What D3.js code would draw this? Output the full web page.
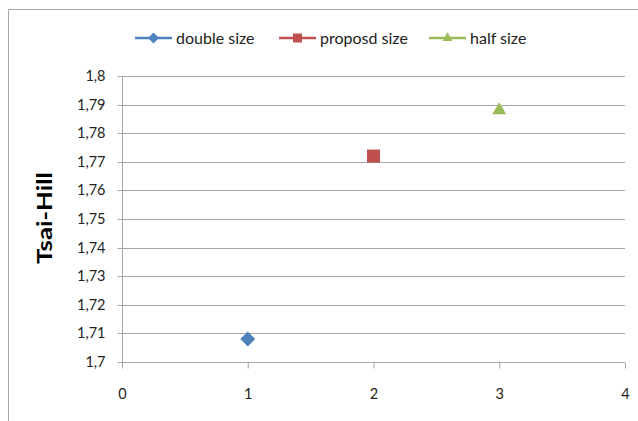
<!DOCTYPE html>
<html>
<head>
<meta charset="utf-8">
<script src="https://cdn.jsdelivr.net/npm/d3@7"></script>
<style>
  html, body { margin: 0; padding: 0; background: #fff; }
  svg { display: block; }
  text { font-family: Lato, "Open Sans", "DejaVu Sans", sans-serif; }
</style>
</head>
<body>
<script>
// Series data
const seriesNames = ["double size", "proposd size", "half size"];
const seriesX = [1, 2, 3];
const seriesY = [1.708, 1.772, 1.788];
const seriesColors = ["#4F81BD", "#C0504D", "#9BBB59"];
const seriesSymbols = ["diamond", "square", "triangle"];

// Axis ticks
const xTicks = [0, 1, 2, 3, 4];
const yTicks = [1.7, 1.71, 1.72, 1.73, 1.74, 1.75, 1.76, 1.77, 1.78, 1.79, 1.8];
const yTitle = "Tsai-Hill";

const W = 638, H = 421;
const svg = d3.select("body").append("svg").attr("width", W).attr("height", H);

// Marker path generator: size is the marker's full width;
// the diamond is a square turned 45 degrees
function markerPath(kind, size) {
  if (kind === "diamond") return d3.symbol(d3.symbolSquare, size * size / 2)();
  if (kind === "square") return d3.symbol(d3.symbolSquare, size * size)();
  return d3.symbol(d3.symbolTriangle, size * size * 0.433)();
}
function markerRotation(kind) { return kind === "diamond" ? 45 : 0; }

// Chart frame
svg.append("line").attr("x1", 8.5).attr("x2", W).attr("y1", 9.5).attr("y2", 9.5)
  .attr("stroke", "#a6a6a6");
svg.append("line").attr("x1", 8.5).attr("x2", 8.5).attr("y1", 9.5).attr("y2", H)
  .attr("stroke", "#a6a6a6");

const x = d3.scaleLinear().domain([0, 4]).range([122, 625]);
const y = d3.scaleLinear().domain([1.7, 1.8]).range([362, 76]);

const fmt = d => String(+d.toFixed(2)).replace(".", ",");

// Horizontal gridlines
svg.append("g").selectAll("line").data(yTicks.slice(1)).join("line")
  .attr("x1", x(0)).attr("x2", x(4))
  .attr("y1", d => Math.round(y(d)) + 0.5).attr("y2", d => Math.round(y(d)) + 0.5)
  .attr("stroke", "#a6a6a6").attr("stroke-width", 1);

// Y axis
const yAxis = svg.append("g").attr("transform", `translate(${x(0) + 0.5},0)`)
  .call(d3.axisLeft(y).tickValues(yTicks).tickFormat(fmt).tickSize(5).tickPadding(12));
yAxis.select(".domain").attr("stroke", "#a6a6a6").attr("d", `M0,${y(1.8)}V${y(1.7) + 0.5}`);
yAxis.selectAll(".tick line").attr("stroke", "#a6a6a6");
yAxis.selectAll(".tick").attr("transform", d => `translate(0,${Math.round(y(d)) + 0.5})`);
yAxis.selectAll("text").attr("font-size", 14.5).attr("fill", "#222")
  .style("font-family", "Lato, 'Open Sans', sans-serif");

// X axis
const xAxis = svg.append("g").attr("transform", `translate(0,${Math.round(y(1.7)) + 0.5})`)
  .call(d3.axisBottom(x).tickValues(xTicks).tickFormat(d3.format("d")).tickSize(6).tickPadding(20));
xAxis.select(".domain").attr("stroke", "#a6a6a6").attr("d", `M${x(0)},0H${x(4)}`);
xAxis.selectAll(".tick line").attr("stroke", "#a6a6a6");
xAxis.selectAll("text").attr("font-size", 14.5).attr("fill", "#222")
  .style("font-family", "Lato, 'Open Sans', sans-serif");

// Y axis title
svg.append("text")
  .attr("transform", `translate(52,${(y(1.7) + y(1.8)) / 2 - 1}) rotate(-90)`)
  .attr("text-anchor", "middle")
  .attr("font-size", 20).attr("font-weight", "bold").attr("fill", "#000")
  .attr("textLength", 92).attr("lengthAdjust", "spacingAndGlyphs")
  .text(yTitle);

// Markers
const sizes = [15, 13, 14];
svg.append("g").selectAll("path").data(seriesX).join("path")
  .attr("transform", (d, i) =>
    `translate(${x(d)},${y(seriesY[i])}) rotate(${markerRotation(seriesSymbols[i])})`)
  .attr("d", (d, i) => markerPath(seriesSymbols[i], sizes[i]))
  .attr("fill", (d, i) => seriesColors[i]);

// Legend
const legendX = [135, 279, 429];
const legend = svg.append("g").selectAll("g").data(seriesNames).join("g")
  .attr("transform", (d, i) => `translate(${legendX[i]},38)`);
legend.append("line").attr("x1", 0).attr("x2", 37).attr("y1", 0).attr("y2", 0)
  .attr("stroke", (d, i) => seriesColors[i]).attr("stroke-width", 2.5);
legend.append("path")
  .attr("transform", (d, i) => `translate(18.5,0) rotate(${markerRotation(seriesSymbols[i])})`)
  .attr("d", (d, i) => markerPath(seriesSymbols[i], [11, 9, 10][i]))
  .attr("fill", (d, i) => seriesColors[i]);
legend.append("text").attr("x", 41).attr("y", 5.5)
  .attr("font-size", 16).attr("fill", "#222").text(d => d);
</script>
</body>
</html>
